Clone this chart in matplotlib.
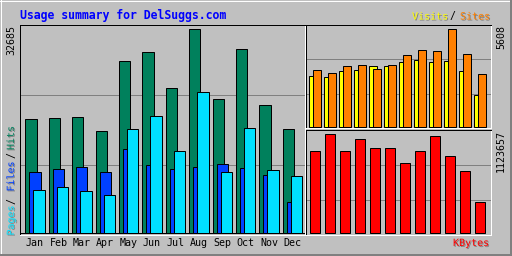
from matplotlib import pyplot as plt
from matplotlib import patheffects as pe
from matplotlib.lines import Line2D
import numpy as np

months = ["Jan", "Feb", "Mar", "Apr", "May", "Jun", "Jul", "Aug", "Sep", "Oct", "Nov", "Dec"]
hits = [18355, 18516, 18677, 16423, 27534, 28982, 23186, 32685, 21575, 29465, 20610, 16745]
files = [9822, 10305, 10627, 9822, 13525, 10949, 10305, 10627, 11110, 10466, 9339, 4991]
pages = [6923, 7407, 6762, 6118, 16745, 18838, 13203, 22702, 9822, 16906, 10144, 9178]
visits = [2918, 2861, 3204, 3261, 3490, 3490, 3719, 3833, 3719, 3776, 3204, 1831]
sites = [3261, 3090, 3490, 3547, 3318, 3547, 4119, 4405, 4348, 5608, 4176, 3033]
kbytes = [928700, 1123657, 928700, 1066350, 963100, 963100, 802600, 928700, 1100700, 871400, 710900, 355400]

W, H = 512, 256
BG = "#c0c0c0"
PX = 0.72  # one pixel in points at 100 dpi
MONO = "DejaVu Sans Mono"
shadow = [pe.withSimplePatchShadow(offset = (PX, -PX), shadow_rgbFace = "#808080", alpha = 1)]

fig = plt.figure(figsize = (W / 100, H / 100), dpi = 100, facecolor = BG)

def box(x0, y0, x1, y1):
    return [x0 / W, 1 - y1 / H, (x1 - x0) / W, (y1 - y0) / H]

def line(x0, y0, x1, y1, color):
    fig.add_artist(Line2D([x0 / W, x1 / W], [1 - y0 / H, 1 - y1 / H],
                          transform = fig.transFigure, color = color, lw = PX))

def label(x, y, s, color, **kw):
    kw.setdefault("family", MONO)
    kw.setdefault("fontsize", 7.2)
    fig.text(x / W, 1 - y / H, s, color = color, **kw)

def panel(x0, y0, x1, y1, vmax, base, top):
    ax = fig.add_axes(box(x0, y0, x1, y1))
    ax.set_facecolor(BG)
    for side, c in (("left", "black"), ("top", "black"), ("right", "white"), ("bottom", "white")):
        ax.spines[side].set_color(c)
        ax.spines[side].set_linewidth(PX)
    ax.set_xticks([])
    ax.set_yticks([])
    for f in (1 / 3, 2 / 3):
        ax.plot([0, 1], [f, f], transform = ax.transAxes, color = "#808080", lw = PX, zorder = 1)
    k = (base - top) / vmax
    ax.set_ylim(-(y1 - base) / k, (base - y0) / k)
    return ax

x = np.arange(12)
bar = dict(edgecolor = "black", linewidth = PX, zorder = 2)

# Hits / Files / Pages
ax = panel(20, 25, 305, 234.5, max(hits), 233, 29.3)
ax.set_xlim((20 - 31) / 23.4, (305 - 31) / 23.4)
ax.bar(x, hits, 0.487, color = "#00805c", **bar)
ax.bar(x + 0.171, files, 0.487, color = "#0040ff", **bar)
ax.bar(x + 0.342, pages, 0.487, color = "#00e0ff", **bar)
ax.axhline(0, color = "black", lw = PX, zorder = 3)

# Visits / Sites
ax2 = panel(306, 25, 491, 128, max(sites), 127.3, 29.3)
ax2.set_xlim((306 - 313) / 15, (491 - 313) / 15)
ax2.bar(x, visits, 0.49, color = "#ffff00", **bar)
ax2.bar(x + 0.267, sites, 0.49, color = "#ff8000", **bar)

# KBytes
ax3 = panel(306, 130, 491, 234.5, max(kbytes), 233, 134.3)
ax3.set_xlim((306 - 313) / 15, (491 - 313) / 15)
ax3.bar(x + 0.133, kbytes, 0.627, color = "#ff0000", **bar)

# month labels
for i, m in enumerate(months):
    label(35 + 23.4 * i, 243, m, "black", ha = "center", va = "center")

label(20, 15, "Usage summary for DelSuggs.com", "#0000ff", fontsize = 8.3,
      fontweight = "bold", ha = "left", va = "center")

label(448, 16.5, "Visits", "#ffff00", ha = "right", va = "center", path_effects = shadow)
label(452.5, 16.5, "/", "black", ha = "center", va = "center")
label(490, 16.5, "Sites", "#ff8000", ha = "right", va = "center", path_effects = shadow)
label(489, 243, "KBytes", "#ff0000", ha = "right", va = "center", path_effects = shadow)

label(11, 25, str(max(hits)), "black", rotation = 90, ha = "center", va = "top")
label(501, 25, str(max(sites)), "black", rotation = 90, ha = "center", va = "top")
label(501, 130, str(max(kbytes)), "black", rotation = 90, ha = "center", va = "top")

label(11, 220.5, "Pages", "#00e0ff", rotation = 90, ha = "center", va = "center", path_effects = shadow)
label(11, 201.5, "/", "black", rotation = 90, ha = "center", va = "center")
label(11, 176.5, "Files", "#0040ff", rotation = 90, ha = "center", va = "center", path_effects = shadow)
label(11, 155, "/", "black", rotation = 90, ha = "center", va = "center")
label(11, 138, "Hits", "#00805c", rotation = 90, ha = "center", va = "center", path_effects = shadow)

# outer bevel
line(0, 0.5, W, 0.5, "white")
line(0.5, 0, 0.5, H, "white")
for off, c in ((1.5, "#808080"), (2.5, "#808080"), (0.5, "black")):
    line(0, H - off, W, H - off, c)
    line(W - off, 0, W - off, H, c)

fig.savefig("out.png", dpi = 100, facecolor = BG)
